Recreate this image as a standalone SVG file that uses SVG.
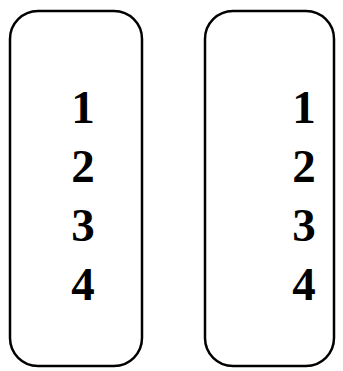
<svg xmlns="http://www.w3.org/2000/svg" width="343" height="371" viewBox="0 0 343 371">
<style>
.box{fill:#fff;stroke:#000;stroke-width:2.5}
.d{font-family:'Liberation Serif','Times New Roman',serif;font-size:47px;font-weight:bold;fill:#000;text-anchor:middle}
</style>
<rect width="343" height="371" fill="#fff"/>
<g id="left">
<rect class="box" x="10" y="11" width="132" height="355" rx="28" ry="28"/>
<text class="d" x="83" y="123">1</text>
<text class="d" x="83" y="182">2</text>
<text class="d" x="83" y="241">3</text>
<text class="d" x="83" y="300">4</text>
</g>
<g id="right">
<rect class="box" x="205" y="11" width="129" height="355" rx="28" ry="28"/>
<text class="d" x="304" y="123">1</text>
<text class="d" x="304" y="182">2</text>
<text class="d" x="304" y="241">3</text>
<text class="d" x="304" y="300">4</text>
</g>
</svg>
